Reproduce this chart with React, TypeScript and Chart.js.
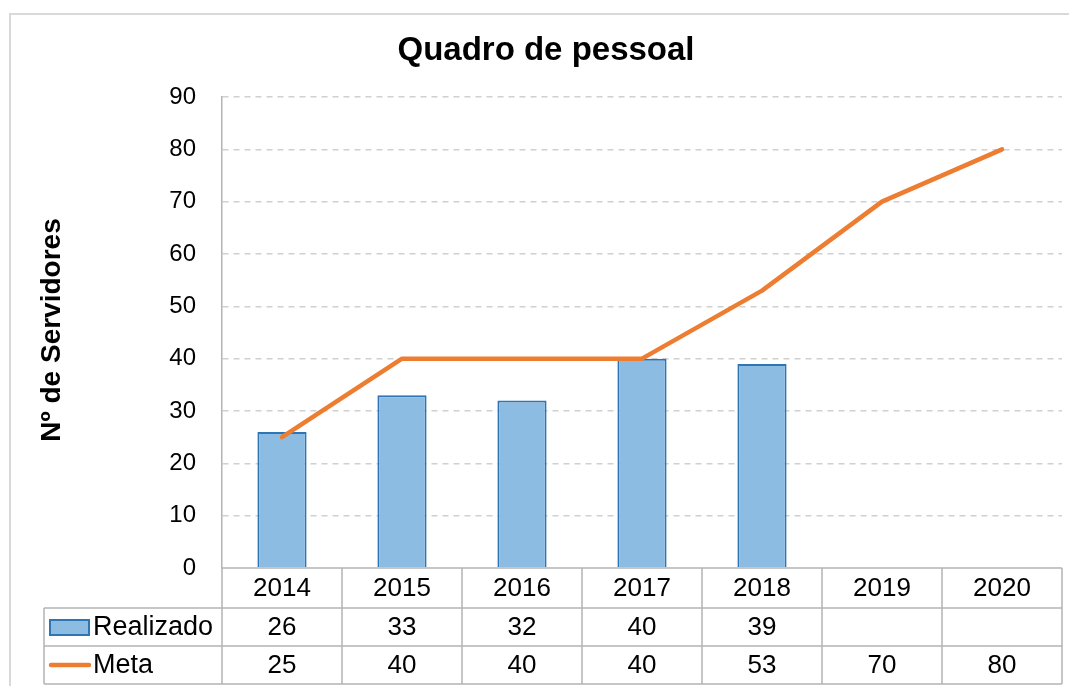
import React, { useEffect, useRef } from "react";
import { Chart, registerables } from "chart.js";

Chart.register(...registerables);

const categories = ["2014", "2015", "2016", "2017", "2018", "2019", "2020"];
const realizado: (number | null)[] = [26, 33, 32, 40, 39, null, null];
const meta: (number | null)[] = [25, 40, 40, 40, 53, 70, 80];
const seriesNames = ["Realizado", "Meta"];
const chartTitle = "Quadro de pessoal";
const yTitle = "Nº de Servidores";

const FONT = "'Liberation Sans', Arial, sans-serif";
const BAR_FILL = "#8DBCE3";
const BAR_BORDER = "#2E75B6";
const LINE_COLOR = "#ED7D31";
const TABLE_LINE = "#B4B4B4";

const W = 1069;
const H = 686;

const decorPlugin = {
  id: "decor",
  beforeDraw(chart: any) {
    const ctx = chart.ctx;
    ctx.save();
    ctx.fillStyle = "#ffffff";
    ctx.fillRect(0, 0, chart.width, chart.height);
    ctx.strokeStyle = "#D9D9D9";
    ctx.lineWidth = 2;
    ctx.strokeRect(10, 14, chart.width + 100, chart.height + 100);
    ctx.restore();
  },
  afterDraw(chart: any) {
    const ctx = chart.ctx;
    const area = chart.chartArea;
    const x = chart.scales.x;
    const n = categories.length;
    const step = x.getPixelForValue(1) - x.getPixelForValue(0);
    const half = step / 2;
    const left = x.getPixelForValue(0) - half;
    const right = x.getPixelForValue(n - 1) + half;
    const top = area.bottom;
    const headerBottom = top + 40;
    const row1Bottom = headerBottom + 38;
    const row2Bottom = row1Bottom + 38;
    const legendLeft = 44;

    ctx.save();
    // Title
    ctx.fillStyle = "#000";
    ctx.font = `bold 33px ${FONT}`;
    ctx.textAlign = "center";
    ctx.textBaseline = "middle";
    ctx.fillText(chartTitle, 546, 51);

    // Y axis title
    ctx.save();
    ctx.translate(52, 330);
    ctx.rotate(-Math.PI / 2);
    ctx.font = `bold 28px ${FONT}`;
    ctx.fillText(yTitle, 0, 0);
    ctx.restore();

    // table lines
    ctx.strokeStyle = TABLE_LINE;
    ctx.lineWidth = 1.5;
    ctx.beginPath();
    ctx.moveTo(left, top);
    ctx.lineTo(right, top);
    [headerBottom, row1Bottom, row2Bottom].forEach((yy) => {
      ctx.moveTo(legendLeft, yy);
      ctx.lineTo(right, yy);
    });
    for (let i = 0; i <= n; i++) {
      const xx = left + i * step;
      ctx.moveTo(xx, top);
      ctx.lineTo(xx, row2Bottom);
    }
    ctx.moveTo(legendLeft, headerBottom);
    ctx.lineTo(legendLeft, row2Bottom);
    ctx.stroke();

    // table text
    ctx.fillStyle = "#000";
    ctx.font = `26px ${FONT}`;
    ctx.textAlign = "center";
    ctx.textBaseline = "middle";
    const hy = (top + headerBottom) / 2 + 1;
    const r1 = (headerBottom + row1Bottom) / 2 + 1;
    const r2 = (row1Bottom + row2Bottom) / 2 + 1;
    categories.forEach((c, i) => {
      const cx = x.getPixelForValue(i);
      ctx.fillText(c, cx, hy);
      const a = realizado[i];
      if (a !== null && a !== undefined) ctx.fillText(String(a), cx, r1);
      const b = meta[i];
      if (b !== null && b !== undefined) ctx.fillText(String(b), cx, r2);
    });

    // legend keys
    ctx.fillStyle = BAR_FILL;
    ctx.fillRect(50, r1 - 8, 39, 15);
    ctx.strokeStyle = BAR_BORDER;
    ctx.lineWidth = 2;
    ctx.strokeRect(50, r1 - 8, 39, 15);
    ctx.strokeStyle = LINE_COLOR;
    ctx.lineWidth = 4.5;
    ctx.lineCap = "round";
    ctx.beginPath();
    ctx.moveTo(51, r2 - 1);
    ctx.lineTo(89, r2 - 1);
    ctx.stroke();

    ctx.fillStyle = "#000";
    ctx.textAlign = "left";
    ctx.font = `27px ${FONT}`;
    ctx.fillText(seriesNames[0], 93, r1);
    ctx.fillText(seriesNames[1], 93, r2);
    ctx.restore();
  },
};

export default function App() {
  const ref = useRef<HTMLCanvasElement | null>(null);

  useEffect(() => {
    document.body.style.margin = "0";
    if (!ref.current) return;
    const chart = new Chart(ref.current, {
      type: "bar",
      data: {
        labels: categories,
        datasets: [
          {
            type: "line",
            label: seriesNames[1],
            data: meta,
            borderColor: LINE_COLOR,
            backgroundColor: LINE_COLOR,
            borderWidth: 4.5,
            pointRadius: 0,
            tension: 0,
            borderCapStyle: "round",
            borderJoinStyle: "round",
            order: 0,
          } as any,
          {
            type: "bar",
            label: seriesNames[0],
            data: realizado,
            backgroundColor: BAR_FILL,
            borderColor: BAR_BORDER,
            borderWidth: 2,
            barPercentage: 0.41,
            categoryPercentage: 1,
            order: 1,
          } as any,
        ],
      },
      options: {
        responsive: false,
        animation: false,
        layout: { padding: { top: 97, left: 0, right: 7, bottom: 0 } },
        plugins: {
          legend: { display: false },
          title: { display: false },
          tooltip: { enabled: false },
        },
        scales: {
          x: {
            offset: true,
            ticks: { display: false },
            grid: { display: false },
            border: { display: false },
            afterFit: (s: any) => {
              s.height = 118;
            },
          },
          y: {
            min: 0,
            max: 90,
            ticks: {
              stepSize: 10,
              color: "#000",
              font: { size: 24, family: FONT },
              padding: 26,
            },
            grid: {
              drawTicks: false,
              color: (c: any) => (c.tick && c.tick.value === 0 ? "rgba(0,0,0,0)" : "#D0D0D0"),
              lineWidth: 1.5,
            },
            border: { display: true, color: TABLE_LINE, width: 1.5, dash: [6, 5] },
            afterFit: (s: any) => {
              s.width = 222;
            },
          },
        },
      } as any,
      plugins: [decorPlugin],
    });
    return () => chart.destroy();
  }, []);

  return (
    <div style={{ position: "absolute", left: 0, top: 0, width: W, height: H }}>
      <canvas ref={ref} width={W} height={H} />
    </div>
  );
}
